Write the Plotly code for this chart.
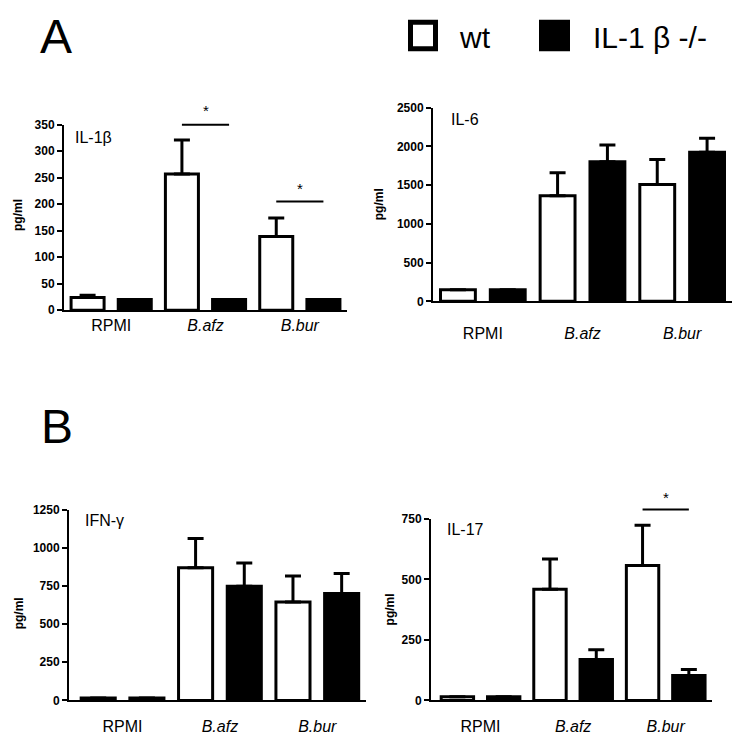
import plotly.graph_objects as go

W, H = 744, 743

categories = ["RPMI", "<i>B.afz</i>", "<i>B.bur</i>"]
group_names = ["wt", "IL-1β -/-"]

# IL-1beta
il1b_wt = [24, 257, 139]
il1b_wt_err = [4, 64, 35]
il1b_ko = [20, 20, 20]
il1b_ko_err = [0, 0, 0]

# IL-6
il6_wt = [150, 1364, 1508]
il6_wt_err = [0, 296, 325]
il6_ko = [150, 1803, 1926]
il6_ko_err = [0, 215, 181]

# IFN-gamma
ifng_wt = [15, 870, 645]
ifng_wt_err = [0, 191, 170]
ifng_ko = [15, 748, 701]
ifng_ko_err = [0, 152, 131]

# IL-17
il17_wt = [15, 459, 557]
il17_wt_err = [0, 125, 167]
il17_ko = [15, 169, 103]
il17_ko_err = [0, 40, 25]

FONT = "Arial, Liberation Sans, sans-serif"

def px_x(p):
    return p / W

def px_y(p):
    return 1 - p / H

panels = [
    dict(title="IL-1β", wt=il1b_wt, wte=il1b_wt_err, ko=il1b_ko, koe=il1b_ko_err,
         xpx=(64, 347), ypx=(120, 309), yr=(0, 350), dtick=50, xr=(-0.5, 2.5),
         standoff=0, tpos=(73, 133), ypos=(18, 212),
         sig=[(1, 350, 376), (2, 205, 230)]),
    dict(title="IL-6", wt=il6_wt, wte=il6_wt_err, ko=il6_ko, koe=il6_ko_err,
         xpx=(433, 732), ypx=(102.7, 300), yr=(0, 2500), dtick=500, xr=(-0.5, 2.5),
         standoff=16, tpos=(449, 115), ypos=(379, 201), sig=[]),
    dict(title="IFN-γ", wt=ifng_wt, wte=ifng_wt_err, ko=ifng_ko, koe=ifng_ko_err,
         xpx=(69, 366), ypx=(512.3, 706.7), yr=(0, 1250), dtick=250, xr=(-0.55, 2.5),
         standoff=10, tpos=(83, 523), ypos=(19, 618), sig=[]),
    dict(title="IL-17", wt=il17_wt, wte=il17_wt_err, ko=il17_ko, koe=il17_ko_err,
         xpx=(431, 712), ypx=(521.7, 706.7), yr=(0, 750), dtick=250, xr=(-0.535, 2.5),
         standoff=10, tpos=(445, 533), ypos=(390, 614),
         sig=[(2, 789, 838)]),
]

fig = go.Figure()
annotations = []
shapes = []

for i, p in enumerate(panels):
    n = "" if i == 0 else str(i + 1)
    xa, ya = "x" + n, "y" + n
    for vals, errs, fill in ((p["wt"], p["wte"], "white"), (p["ko"], p["koe"], "black")):
        fig.add_trace(go.Bar(
            x=categories, y=vals, xaxis=xa, yaxis=ya,
            marker=dict(color=fill, line=dict(color="black", width=3)),
            error_y=dict(type="data", array=errs, arrayminus=[0] * len(errs),
                         symmetric=False, color="black", thickness=3, width=8),
            showlegend=False, hoverinfo="skip",
        ))
    xdom = [px_x(p["xpx"][0]), px_x(p["xpx"][1])]
    ydom = [px_y(p["ypx"][1]), px_y(p["ypx"][0])]
    fig.layout["xaxis" + n] = dict(
        domain=xdom, anchor=ya, range=list(p["xr"]), type="category",
        showline=True, linecolor="black", linewidth=2, ticks="",
        tickfont=dict(family=FONT, size=16, color="black"),
        ticklabelstandoff=p["standoff"], showgrid=False, zeroline=False, fixedrange=True,
    )
    fig.layout["yaxis" + n] = dict(
        domain=ydom, anchor=xa, range=list(p["yr"]), dtick=p["dtick"],
        showline=True, linecolor="black", linewidth=2, ticks="outside",
        ticklen=5, tickwidth=2, tickcolor="black",
        tickfont=dict(family=FONT, size=12, color="black", weight="bold"),
        showgrid=False, zeroline=False, fixedrange=True,
    )
    annotations.append(dict(text=p["title"], x=px_x(p["tpos"][0]), y=px_y(p["tpos"][1]),
                            xref="paper", yref="paper", xanchor="left", yanchor="middle",
                            showarrow=False, font=dict(family=FONT, size=16, color="black")))
    annotations.append(dict(text="<b>pg/ml</b>", x=px_x(p["ypos"][0]), y=px_y(p["ypos"][1]),
                            xref="paper", yref="paper", xanchor="center", yanchor="middle",
                            textangle=-90, showarrow=False,
                            font=dict(family=FONT, size=12, color="black")))
    y0, y1 = p["yr"]
    for (cat_idx, level, star_level) in p["sig"]:
        def to_paper(v):
            return ydom[0] + (v - y0) / (y1 - y0) * (ydom[1] - ydom[0])
        shapes.append(dict(type="line", xref=xa, yref="paper",
                           x0=cat_idx - 0.25, x1=cat_idx + 0.25,
                           y0=to_paper(level), y1=to_paper(level),
                           line=dict(color="black", width=2)))
        annotations.append(dict(text="*", x=cat_idx, y=to_paper(star_level),
                                xref=xa, yref="paper", showarrow=False,
                                xanchor="center", yanchor="middle",
                                font=dict(family=FONT, size=15, color="black")))

# Legend (drawn manually)
shapes.append(dict(type="rect", xref="paper", yref="paper",
                   x0=px_x(410.5), x1=px_x(435.5), y0=px_y(42.5), y1=px_y(15.5),
                   line=dict(color="black", width=5), fillcolor="white"))
shapes.append(dict(type="rect", xref="paper", yref="paper",
                   x0=px_x(539), x1=px_x(570), y0=px_y(45), y1=px_y(13),
                   line=dict(color="black", width=0), fillcolor="black"))
annotations.append(dict(text=group_names[0], x=px_x(457), y=px_y(31), xref="paper", yref="paper",
                        xanchor="left", yanchor="middle", showarrow=False,
                        font=dict(family=FONT, size=30, color="black")))
annotations.append(dict(text="IL-1 β -/-", x=px_x(591), y=px_y(31), xref="paper", yref="paper",
                        xanchor="left", yanchor="middle", showarrow=False,
                        font=dict(family=FONT, size=30, color="black")))

for letter, (lx, ly) in (("A", (56, 30)), ("B", (57, 428))):
    annotations.append(dict(text=letter, x=px_x(lx), y=px_y(ly), xref="paper", yref="paper",
                            xanchor="center", yanchor="middle", showarrow=False,
                            font=dict(family=FONT, size=48, color="black")))

fig.update_layout(
    width=W, height=H, margin=dict(l=0, r=0, t=0, b=0),
    paper_bgcolor="white", plot_bgcolor="white",
    barmode="group", bargap=0, bargroupgap=0.3,
    annotations=annotations, shapes=shapes, showlegend=False,
    font=dict(family=FONT, color="black"),
)

fig.write_html("out.html",
               config={"displayModeBar": False, "staticPlot": True},
               post_script="document.documentElement.style.margin='0';"
                           "document.body.style.margin='0';document.body.style.padding='0';"
                           "document.body.style.overflow='hidden';")
